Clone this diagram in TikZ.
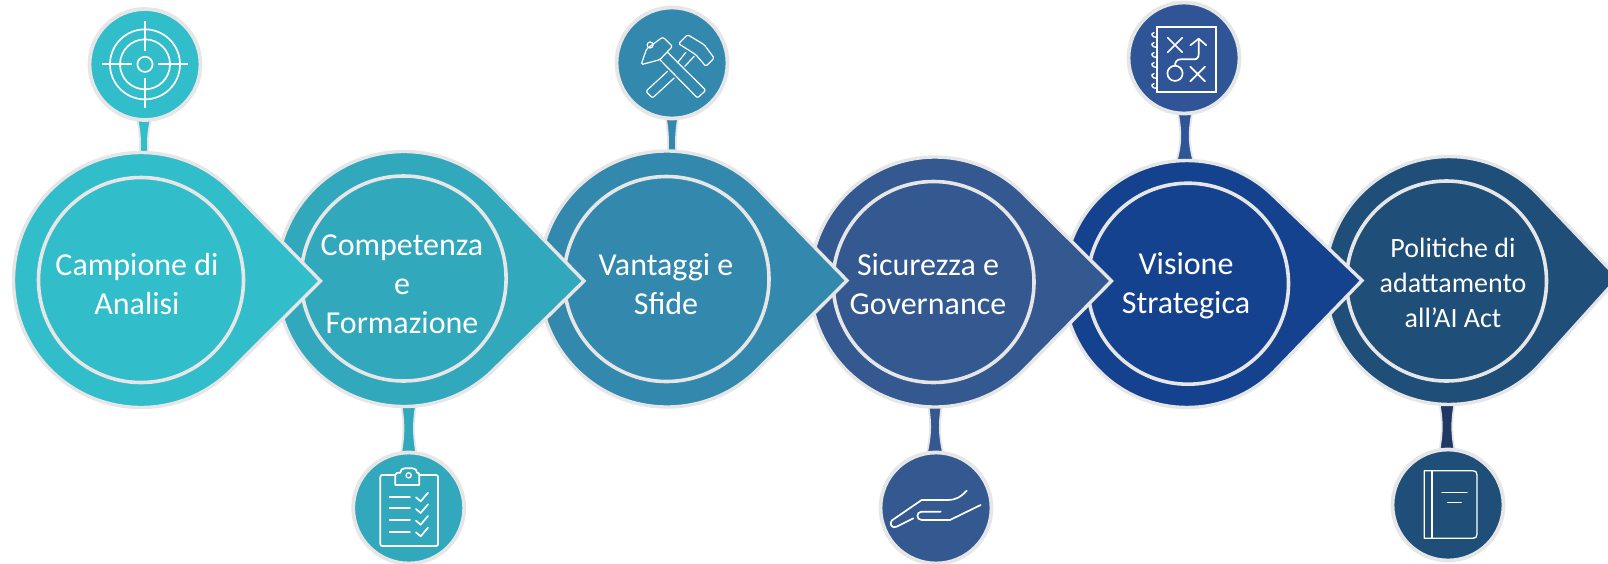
\documentclass[tikz,border=0pt]{standalone}
\usepackage{fontspec}
\setmainfont{Carlito}
\usetikzlibrary{calc}
\pgfdeclarelayer{back}
\pgfsetlayers{back,main}
\definecolor{edge}{HTML}{E6E6E6}
\definecolor{ca}{HTML}{31BDC9}
\definecolor{cb}{HTML}{31A8BC}
\definecolor{cc}{HTML}{3389AD}
\definecolor{cd}{HTML}{345890}
\definecolor{ce}{HTML}{15428F}
\definecolor{cf}{HTML}{1F4E79}
\definecolor{cg}{HTML}{2F5597}
\definecolor{ch}{HTML}{1F3864}
\tikzset{
  dropshape/.style={draw=edge,line width=3.4pt,line join=miter},
  ring/.style={circle,draw=edge,line width=3.6pt,inner sep=0pt,outer sep=0pt},
  iconball/.style={circle,draw=edge,line width=3.8pt,inner sep=0pt,outer sep=0pt,minimum size=111pt},
  stemshape/.style={draw=edge,line width=1.8pt},
  caption/.style={text=white,align=center,inner sep=0pt,font=\fontsize{32}{39}\selectfont},
  smallcaption/.style={text=white,align=center,inner sep=0pt,font=\fontsize{28}{35}\selectfont},
  glyph/.style={draw=white,line width=1.7pt,line cap=round,line join=round},
  thinglyph/.style={draw=white,line width=1.2pt,line cap=round,line join=round},
}
% #1 name, #2 cx, #3 cy, #4 R, #5 tipx, #6 tipy, #7 colour
\newcommand{\dropat}[7]{%
  \pgfmathsetmacro{\dk}{0.7071*#4}
  \draw[dropshape,fill=#7] (#5,#6) -- (#2+\dk,#3-\dk)
    arc[start angle=45,end angle=315,radius=#4pt] -- cycle;
  \coordinate (#1) at (#2,#3-#4+4);
}
% #1 from, #2 to, #3 colour, #4 half width at icon, #5 waist, #6 half width at drop, #7 x offset
\newcommand{\stemlink}[7]{%
  \begin{pgfonlayer}{back}
  \coordinate (sa) at ([xshift=#7pt]#1);
  \coordinate (sb) at (sa |- #2);
  \draw[stemshape,fill=#3] ([xshift=-#4pt]sa)
    .. controls ([xshift=-#5pt]$(sa)!.4!(sb)$) and ([xshift=-#5pt]$(sa)!.6!(sb)$) .. ([xshift=-#6pt]sb)
    -- ([xshift=#6pt]sb)
    .. controls ([xshift=#5pt]$(sa)!.6!(sb)$) and ([xshift=#5pt]$(sa)!.4!(sb)$) .. ([xshift=#4pt]sa) -- cycle;
  \end{pgfonlayer}
}
\begin{document}
\begin{tikzpicture}[x=1pt,y=-1pt]
\useasboundingbox (0,0) rectangle (1608,563);
\clip (0,0) rectangle (1608,563);

% ---- stage 6
\dropat{d6}{1449}{280.5}{124}{1618}{278}{cf}
\node[ring,fill=cf,minimum size=200pt] (r6) at (1446.5,281) {};
\node[smallcaption] (t6) at (1453,283) {Politiche di\\adattamento\\all’AI Act};
\node[iconball,fill=cf] (i6) at (1448,505) {};
\stemlink{i6.north}{d6 |- 0,404}{ch}{7.5}{4.5}{7.5}{-1}
\begin{scope}[xshift=1382pt,yshift=-440pt,x=.3333pt,y=-.3333pt]
  \draw[glyph,line width=1.3pt] (127,92) -- (272,92) .. controls (281,92) and (285,96) .. (285,105)
     -- (285,282) .. controls (285,291) and (281,295) .. (272,295) -- (127,295) -- cycle;
  \draw[glyph,line width=1.3pt] (150,92) -- (150,295);
  \draw[glyph,line width=1.3pt] (180,158) -- (255,158) (197,187) -- (238,187);
\end{scope}

% ---- stage 5
\dropat{d5}{1187}{284}{123.5}{1362}{280.5}{ce}
\node[ring,fill=ce,minimum size=201pt] (r5) at (1188,283.7) {};
\node[caption] (t5) at (1186,286) {Visione\\Strategica};
\node[iconball,fill=cg] (i5) at (1184,58) {};
\stemlink{i5.south}{d5}{cg}{7}{3.6}{9.5}{1}
\begin{scope}[xshift=1120pt,yshift=0pt,x=.3333pt,y=-.3333pt]
  \draw[glyph,line cap=butt,line join=miter] (112,80) rectangle (287,275);
  \draw[glyph] (143,113) -- (187,157) (187,113) -- (143,157);
  \draw[glyph] (211,200) -- (255,244) (255,200) -- (211,244);
  \draw[glyph] (165,220) circle[radius=7.6pt];
  \draw[glyph] (165,197) .. controls (165,184) and (172,178) .. (182,178) -- (222,178)
     .. controls (232,178) and (236,172) .. (236,162) -- (236,116);
  \draw[glyph] (211,136) -- (236,116) -- (259,136);
  \foreach \yy in {105,135,165,195,228,258}
    \draw[glyph,line width=1.4pt] (112,\yy+7) .. controls (96,\yy+9) and (90,\yy-6) .. (102,\yy-7);
\end{scope}

% ---- stage 4
\dropat{d4}{935}{282}{125}{1111.5}{281}{cd}
\node[ring,fill=cd,minimum size=201pt] (r4) at (933.5,282) {};
\node[caption] (t4) at (928,284) {Sicurezza e\\Governance};
\node[iconball,fill=cd] (i4) at (936,508) {};
\stemlink{i4.north}{d4 |- 0,404}{cd}{8}{4}{7}{-1}
\begin{scope}[xshift=870pt,yshift=-440pt,x=.3333pt,y=-.3333pt]
  \draw[glyph] (290,152) .. controls (272,172) and (255,180) .. (235,180) -- (155,180)
     -- (66,241) .. controls (56,250) and (66,268) .. (80,260) -- (130,235);
  \draw[glyph] (212,215) -- (155,215) .. controls (138,215) and (138,240) .. (155,240)
     -- (240,240) -- (332,195);
\end{scope}

% ---- stage 3
\dropat{d3}{667}{279}{128}{847}{280.5}{cc}
\node[ring,fill=cc,minimum size=205pt] (r3) at (666.5,279) {};
\node[caption] (t3) at (666,284) {Vantaggi e\\Sfide};
\node[iconball,fill=cc] (i3) at (672,63) {};
\stemlink{i3.south}{d3}{cc}{6}{3.8}{4}{0}
\begin{scope}[xshift=602.5pt,yshift=-3pt,x=.3333pt,y=-.3333pt]
  \draw[thinglyph,rounded corners=1.5pt] (116,185) -- (132,138) -- (181,102) -- (210,130) -- (172,170) -- cycle;
  \draw[thinglyph] (143,126) circle[radius=3pt];
  \draw[thinglyph,rounded corners=1.5pt] (172,170) -- (285,285) -- (310,262) -- (195,148);
  \draw[thinglyph,rounded corners=1.5pt] (228,122) -- (255,95) -- (305,125) -- (335,165) -- (310,190) -- (280,155) -- cycle;
  \draw[thinglyph] (250,148) -- (226,178) (275,160) -- (247,190);
  \draw[thinglyph,rounded corners=1.5pt] (195,205) -- (130,265) -- (150,285) -- (215,225);
\end{scope}

% ---- stage 2
\dropat{d2}{404}{279}{127.5}{584}{281}{cb}
\node[ring,fill=cb,minimum size=205pt] (r2) at (403.6,278.5) {};
\node[caption] (t2) at (402,284) {Competenza\\e\\Formazione};
\node[iconball,fill=cb] (i2) at (408.7,508) {};
\stemlink{i2.north}{d2 |- 0,404}{cb}{7.5}{4.5}{7.5}{0}
\begin{scope}[xshift=342pt,yshift=-440pt,x=.3333pt,y=-.3333pt]
  \draw[glyph] (160,105) -- (121,105) .. controls (117,105) and (115,107) .. (115,111) -- (115,312)
     .. controls (115,316) and (117,318) .. (121,318) -- (282,318)
     .. controls (286,318) and (288,316) .. (288,312) -- (288,111)
     .. controls (288,107) and (286,105) .. (282,105) -- (232,105);
  \draw[glyph] (160,135) -- (160,105) .. controls (160,98) and (168,98) .. (175,98)
     .. controls (175,90) and (180,85) .. (188,85) -- (212,85)
     .. controls (220,85) and (225,90) .. (225,98) .. controls (230,98) and (232,100) .. (232,105) -- (232,135) -- cycle;
  \draw[glyph,line width=1.3pt] (200,106) circle[radius=2.6pt];
  \foreach \yy in {170,205,240,275}{
    \draw[glyph] (143,\yy) -- (204,\yy);
    \draw[glyph] (222,\yy+2) -- (236,\yy+14) -- (258,\yy-12);
  }
\end{scope}

% ---- stage 1
\dropat{d1}{141}{280}{127.5}{320.5}{281}{ca}
\node[ring,fill=ca,minimum size=205pt] (r1) at (141,280) {};
\node[caption] (t1) at (137,284) {Campione di\\Analisi};
\node[iconball,fill=ca] (i1) at (145,64.5) {};
\stemlink{i1.south}{d1}{ca}{6.6}{3.6}{4.2}{-1}
\begin{scope}[xshift=80pt,yshift=0pt,x=.3333pt,y=-.3333pt]
  \draw[glyph] (195,193) circle[radius=7.6pt] circle[radius=25pt] circle[radius=35pt];
  \draw[glyph,line cap=butt] (195,63) -- (195,153) (195,233) -- (195,323)
     (65,193) -- (155,193) (235,193) -- (325,193);
\end{scope}
\end{tikzpicture}
\end{document}
